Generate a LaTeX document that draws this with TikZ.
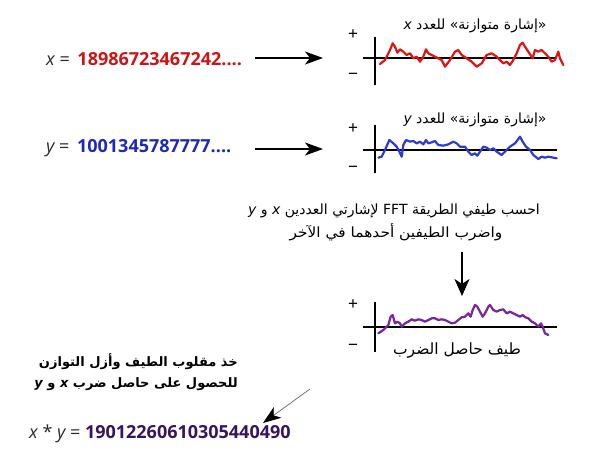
\documentclass[tikz,border=0pt]{standalone}
\usepackage{fontspec}
\setmainfont{Liberation Sans}
\newfontfamily\numfont{Open Sans}
\newfontfamily\arabicfont[Script=Arabic]{DejaVu Sans}
\TeXXeTstate=1
\usetikzlibrary{arrows.meta}
\definecolor{xred}{RGB}{205,20,20}
\definecolor{xcurve}{RGB}{225,20,20}
\definecolor{yblue}{RGB}{30,40,185}
\definecolor{ycurve}{RGB}{45,60,205}
\definecolor{prodnum}{RGB}{55,20,95}
\definecolor{prodcurve}{RGB}{70,45,200}
\definecolor{txtgray}{RGB}{40,40,40}
\tikzset{
  numlabel/.style={anchor=west, inner sep=0pt, font=\numfont\fontsize{18}{20}\selectfont},
  arlabel/.style={inner sep=0pt, font=\arabicfont\fontsize{14}{16}\selectfont},
  arbold/.style={inner sep=0pt, anchor=east, font=\arabicfont\bfseries\fontsize{13}{16}\selectfont},
  sign/.style={inner sep=0pt, font=\fontsize{17}{18}\selectfont},
  axis/.style={line width=1.1pt, black},
  signal/.style={line width=2.2pt, line join=round, line cap=round},
  bigarrow/.style={line width=1.2pt, -{Stealth[length=18pt, width=13pt, inset=5pt]}},
  thinarrow/.style={line width=0.7pt, draw=black!60, -{Stealth[length=18pt, width=13pt, inset=5pt, color=black]}}
}
\begin{document}
\begin{tikzpicture}[x=1pt,y=-1pt]
\useasboundingbox (0,0) rectangle (600,458);

% ---------- x row ----------
\node[numlabel] (xnum) at (46,59) {{\color{txtgray}\itshape x} {\color{txtgray}=}\, {\bfseries\color{xred}18986723467242....}};
\coordinate (xa1) at (255,58);
\coordinate (xa2) at (323,58);
\draw[bigarrow] (xa1) -- (xa2);

\draw[axis] (375,37) -- (375,85);
\draw[axis] (363,58) -- (556,58);
\node[sign] (xplus) at (353,35) {+};
\node[sign] (xminus) at (353,76) {−};
\node[arlabel] (xlab) at (475,26) {\beginR «إشارة متوازنة» للعدد {\itshape x}\endR};
\begin{scope}[shift={(340,10)}, scale=1/3]
\draw[signal, xcurve] (120,162) -- (135,150) -- (145,130) -- (150,120) -- (158,100) -- (165,110) -- (172,128) -- (180,118) -- (190,125) -- (200,135) -- (210,130) -- (220,145) -- (230,140) -- (240,155) -- (250,140) -- (258,118) -- (265,130) -- (275,135) -- (285,140) -- (295,145) -- (305,150) -- (315,170) -- (330,150) -- (345,125) -- (355,120) -- (365,135) -- (380,145) -- (395,155) -- (410,170) -- (425,160) -- (440,135) -- (455,130) -- (470,140) -- (480,150) -- (490,160) -- (500,155) -- (510,165) -- (520,150) -- (530,130) -- (540,105) -- (548,98) -- (555,110) -- (565,125) -- (578,145) -- (585,120) -- (595,125) -- (605,120) -- (615,130) -- (625,140) -- (635,155) -- (645,150) -- (655,125) -- (660,145) -- (670,165);
\end{scope}

% ---------- y row ----------
\node[numlabel] (ynum) at (46,148) {{\color{txtgray}\itshape y} {\color{txtgray}=}\, {\bfseries\color{yblue}1001345787777....}};
\coordinate (ya1) at (255,149);
\coordinate (ya2) at (323,149);
\draw[bigarrow] (ya1) -- (ya2);

\draw[axis] (375,125) -- (375,173);
\draw[axis] (363,150) -- (557,150);
\node[sign] (yplus) at (353,129) {+};
\node[sign] (yminus) at (353,169) {−};
\node[arlabel] (ylab) at (475,120) {\beginR «إشارة متوازنة» للعدد {\itshape y}\endR};
\begin{scope}[shift={(340,105)}, scale=1/3]
\draw[signal, ycurve] (115,158) -- (125,155) -- (135,135) -- (148,105) -- (160,115) -- (170,125) -- (178,140) -- (185,155) -- (190,120) -- (198,105) -- (210,110) -- (220,108) -- (230,115) -- (240,110) -- (250,118) -- (258,105) -- (265,115) -- (275,112) -- (285,108) -- (295,120) -- (310,122) -- (325,118) -- (340,110) -- (350,115) -- (360,125) -- (375,125) -- (385,140) -- (395,150) -- (405,145) -- (412,152) -- (420,140) -- (430,125) -- (440,128) -- (450,135) -- (460,130) -- (470,140) -- (485,150) -- (495,140) -- (510,125) -- (525,115) -- (540,95) -- (548,110) -- (558,125) -- (570,135) -- (580,150) -- (595,162) -- (605,155) -- (615,158) -- (625,155) -- (640,158) -- (650,160);
\end{scope}

% ---------- FFT text ----------
\node[arlabel] (fft1) at (394,211) {\beginR احسب طيفي الطريقة \beginL FFT\endL{} لإشارتي العددين {\itshape x} و {\itshape y}\endR};
\node[arlabel, xscale=1.1] (fft2) at (396,232) {\beginR واضرب الطيفين أحدهما في الآخر\endR};
\coordinate (d1) at (462,252);
\coordinate (d2) at (462,296);
\draw[line width=1.2pt, -{Stealth[length=17pt, width=15pt, inset=5pt]}] (d1) -- (d2);

% ---------- product ----------
\draw[axis] (375,302) -- (375,352);
\draw[axis] (363,327) -- (557,327);
\node[sign] (pplus) at (353,305) {+};
\node[sign] (pminus) at (353,347) {−};
\node[arlabel, font=\arabicfont\fontsize{15.5}{17}\selectfont] (plab) at (457,350) {\beginR طيف حاصل الضرب\endR};
\begin{scope}[shift={(340,280)}, scale=1/3]
\draw[signal, prodcurve] (115,160) -- (130,150) -- (145,135) -- (152,110) -- (158,105) -- (165,130) -- (172,125) -- (180,130) -- (185,140) -- (195,130) -- (205,125) -- (215,118) -- (225,122) -- (235,118) -- (245,120) -- (255,125) -- (265,120) -- (275,115) -- (285,115) -- (295,120) -- (305,118) -- (315,120) -- (325,125) -- (335,130) -- (345,128) -- (355,120) -- (365,112) -- (375,110) -- (385,100) -- (392,110) -- (398,90) -- (405,75) -- (412,80) -- (420,95) -- (428,110) -- (435,100) -- (445,80) -- (450,75) -- (460,90) -- (470,95) -- (480,90) -- (490,88) -- (500,100) -- (510,95) -- (520,100) -- (530,105) -- (540,110) -- (548,105) -- (556,112) -- (565,115) -- (575,125) -- (585,130) -- (595,140) -- (603,130) -- (608,140) -- (615,160) -- (625,165);
\draw[line width=0.7pt, line join=round, xcurve!80!magenta, opacity=0.8, yshift=1pt] (115,160) -- (130,150) -- (145,135) -- (152,110) -- (158,105) -- (165,130) -- (172,125) -- (180,130) -- (185,140) -- (195,130) -- (205,125) -- (215,118) -- (225,122) -- (235,118) -- (245,120) -- (255,125) -- (265,120) -- (275,115) -- (285,115) -- (295,120) -- (305,118) -- (315,120) -- (325,125) -- (335,130) -- (345,128) -- (355,120) -- (365,112) -- (375,110) -- (385,100) -- (392,110) -- (398,90) -- (405,75) -- (412,80) -- (420,95) -- (428,110) -- (435,100) -- (445,80) -- (450,75) -- (460,90) -- (470,95) -- (480,90) -- (490,88) -- (500,100) -- (510,95) -- (520,100) -- (530,105) -- (540,110) -- (548,105) -- (556,112) -- (565,115) -- (575,125) -- (585,130) -- (595,140) -- (603,130) -- (608,140) -- (615,160) -- (625,165);
\end{scope}

% ---------- inverse text ----------
\node[arbold] (inv1) at (238,362) {\beginR خذ مقلوب الطيف وأزل التوازن\endR};
\node[arbold] (inv2) at (238,384) {\beginR للحصول على حاصل ضرب {\itshape x} و {\itshape y}\endR};
\coordinate (g1) at (310,389);
\coordinate (g2) at (263,423);
\draw[thinarrow] (g1) -- (g2);

% ---------- result ----------
\node[numlabel] (res) at (29,434) {{\color{txtgray}\itshape x} {\color{txtgray}*} {\color{txtgray}\itshape y} {\color{txtgray}=} {\bfseries\color{prodnum}19012260610305440490}};
\end{tikzpicture}
\end{document}
